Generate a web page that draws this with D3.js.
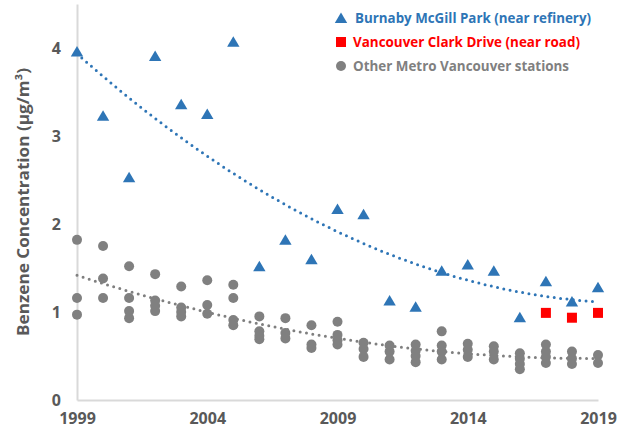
<!DOCTYPE html>
<html>
<head>
<meta charset="utf-8">
<script src="https://cdn.jsdelivr.net/npm/d3@7"></script>
<style>
  body { margin: 0; background: #fff; }
  svg { display: block; font-family: "Open Sans", sans-serif; }
</style>
</head>
<body>
<div id="chart"></div>
<script>
const years = d3.range(1999, 2020);
const burnaby = [3.96, 3.23, 2.53, 3.91, 3.36, 3.25, 4.07, 1.52, 1.82, 1.6, 2.17,
  2.11, 1.13, 1.06, 1.47, 1.54, 1.47, 0.94, 1.35, 1.12, 1.28];
const clarkYears = [2017, 2018, 2019];
const clark = [0.99, 0.935, 0.99];
// one list of readings per year, same order as years
const otherStations = [
  [1.82, 1.16, 0.97],
  [1.75, 1.38, 1.16],
  [1.52, 1.16, 1.01, 0.93],
  [1.43, 1.13, 1.07, 1.01],
  [1.29, 1.05, 1.0, 0.95],
  [1.36, 1.08, 0.98],
  [1.31, 1.16, 0.91, 0.85],
  [0.95, 0.78, 0.73, 0.69],
  [0.93, 0.76, 0.7],
  [0.85, 0.63, 0.59],
  [0.89, 0.74, 0.68, 0.63],
  [0.65, 0.58, 0.49],
  [0.62, 0.55, 0.46],
  [0.63, 0.56, 0.5, 0.43],
  [0.78, 0.62, 0.55, 0.46],
  [0.64, 0.57, 0.49],
  [0.61, 0.55, 0.46],
  [0.53, 0.47, 0.41, 0.35],
  [0.63, 0.55, 0.49, 0.42],
  [0.55, 0.47, 0.41],
  [0.51, 0.42]
];
const xTicks = [1999, 2004, 2009, 2014, 2019];
const yTicks = [0, 1, 2, 3, 4];
const legendLabels = [
  "Burnaby McGill Park (near refinery)",
  "Vancouver Clark Drive (near road)",
  "Other Metro Vancouver stations"
];

const width = 622;
const height = 431;
const blue = "#2e75b6";
const red = "#ff0000";
const grey = "#808080";
const textGrey = "#595959";

const svg = d3.select("#chart").append("svg")
  .attr("width", width)
  .attr("height", height);

const x = d3.scaleLinear().domain([1999, 2019]).range([77, 598]);
const y = d3.scaleLinear().domain([0, 4.5]).range([400, 4]);

// least squares quadratic, like the spreadsheet trendline
const quadFit = (pts) => {
  const t0 = 1999;
  let s = [0, 0, 0, 0, 0], r = [0, 0, 0];
  pts.forEach(([px, py]) => {
    const t = px - t0;
    for (let k = 0; k < 5; k++) s[k] += Math.pow(t, k);
    for (let k = 0; k < 3; k++) r[k] += py * Math.pow(t, k);
  });
  const m = [[s[0], s[1], s[2], r[0]], [s[1], s[2], s[3], r[1]], [s[2], s[3], s[4], r[2]]];
  for (let i = 0; i < 3; i++) {
    for (let j = i + 1; j < 3; j++) {
      const f = m[j][i] / m[i][i];
      for (let k = i; k < 4; k++) m[j][k] -= f * m[i][k];
    }
  }
  const c = [0, 0, 0];
  for (let i = 2; i >= 0; i--) {
    let v = m[i][3];
    for (let k = i + 1; k < 3; k++) v -= m[i][k] * c[k];
    c[i] = v / m[i][i];
  }
  return (yr) => c[0] + c[1] * (yr - t0) + c[2] * (yr - t0) * (yr - t0);
};

const burnabyPts = years.map((yr, i) => [yr, burnaby[i]]);
const otherPts = [];
years.forEach((yr, i) => otherStations[i].forEach((v) => otherPts.push([yr, v])));

// axes
const xAxis = svg.append("g")
  .attr("transform", `translate(0,${y(0)})`)
  .call(d3.axisBottom(x).tickValues(xTicks).tickFormat(d3.format("d")).tickSize(0).tickPadding(13));
const yAxis = svg.append("g")
  .attr("transform", `translate(${x(1999)},0)`)
  .call(d3.axisLeft(y).tickValues(yTicks).tickFormat(d3.format("d")).tickSize(0).tickPadding(16));

[xAxis, yAxis].forEach((a) => {
  a.select(".domain").attr("stroke", "#d9d9d9").attr("stroke-width", 2);
  a.selectAll("text")
    .attr("fill", textGrey)
    .style("font-size", "16px")
    .style("font-weight", "bold")
    .style("font-family", "Open Sans");
});
yAxis.selectAll("text").attr("dy", "0.36em");

svg.append("text")
  .attr("transform", `translate(29,202) rotate(-90)`)
  .attr("text-anchor", "middle")
  .attr("fill", textGrey)
  .style("font-size", "16px")
  .style("font-weight", "bold")
  .attr("textLength", 268)
  .attr("lengthAdjust", "spacingAndGlyphs")
  .text("Benzene Concentration (μg/m³)");

// trendlines
const line = d3.line().x((d) => x(d[0])).y((d) => y(d[1]));
const samples = d3.range(1999, 2019.001, 0.1);
const addTrend = (fit, color) => {
  svg.append("path")
    .datum(samples.map((yr) => [yr, fit(yr)]))
    .attr("d", line)
    .attr("fill", "none")
    .attr("stroke", color)
    .attr("stroke-width", 3)
    .attr("stroke-linecap", "round")
    .attr("stroke-dasharray", "0,6.4");
};
addTrend(quadFit(burnabyPts), blue);
addTrend(quadFit(otherPts), "#7f7f7f");

// markers
const triangle = "M0,-5.5L6.2,5L-6.2,5Z";

svg.append("g").selectAll("circle")
  .data(otherPts)
  .join("circle")
  .attr("cx", (d) => x(d[0]))
  .attr("cy", (d) => y(d[1]))
  .attr("r", 5)
  .attr("fill", grey);

svg.append("g").selectAll("path")
  .data(burnabyPts)
  .join("path")
  .attr("d", triangle)
  .attr("transform", (d) => `translate(${x(d[0])},${y(d[1])})`)
  .attr("fill", blue);

svg.append("g").selectAll("rect")
  .data(clarkYears.map((yr, i) => [yr, clark[i]]))
  .join("rect")
  .attr("x", (d) => x(d[0]) - 5)
  .attr("y", (d) => y(d[1]) - 5)
  .attr("width", 10)
  .attr("height", 10)
  .attr("fill", red);

// legend
const legend = svg.append("g").attr("transform", "translate(341,0)");
const legendColors = [blue, red, grey];
const legendWidths = [236, 227, 216];
const legendY = [18, 42, 66];

legend.append("path").attr("d", triangle).attr("transform", `translate(0,${legendY[0]})`).attr("fill", blue);
legend.append("rect").attr("x", -5).attr("y", legendY[1] - 5).attr("width", 10).attr("height", 10).attr("fill", red);
legend.append("circle").attr("cx", 0).attr("cy", legendY[2]).attr("r", 5).attr("fill", grey);

legend.selectAll("text.lbl")
  .data(legendLabels)
  .join("text")
  .attr("class", "lbl")
  .attr("x", (d, i) => (i === 0 ? 14 : 12))
  .attr("y", (d, i) => legendY[i])
  .attr("dy", "0.35em")
  .attr("fill", (d, i) => legendColors[i])
  .attr("textLength", (d, i) => legendWidths[i])
  .attr("lengthAdjust", "spacingAndGlyphs")
  .style("font-size", "14px")
  .style("font-weight", "bold")
  .text((d) => d);
</script>
</body>
</html>
